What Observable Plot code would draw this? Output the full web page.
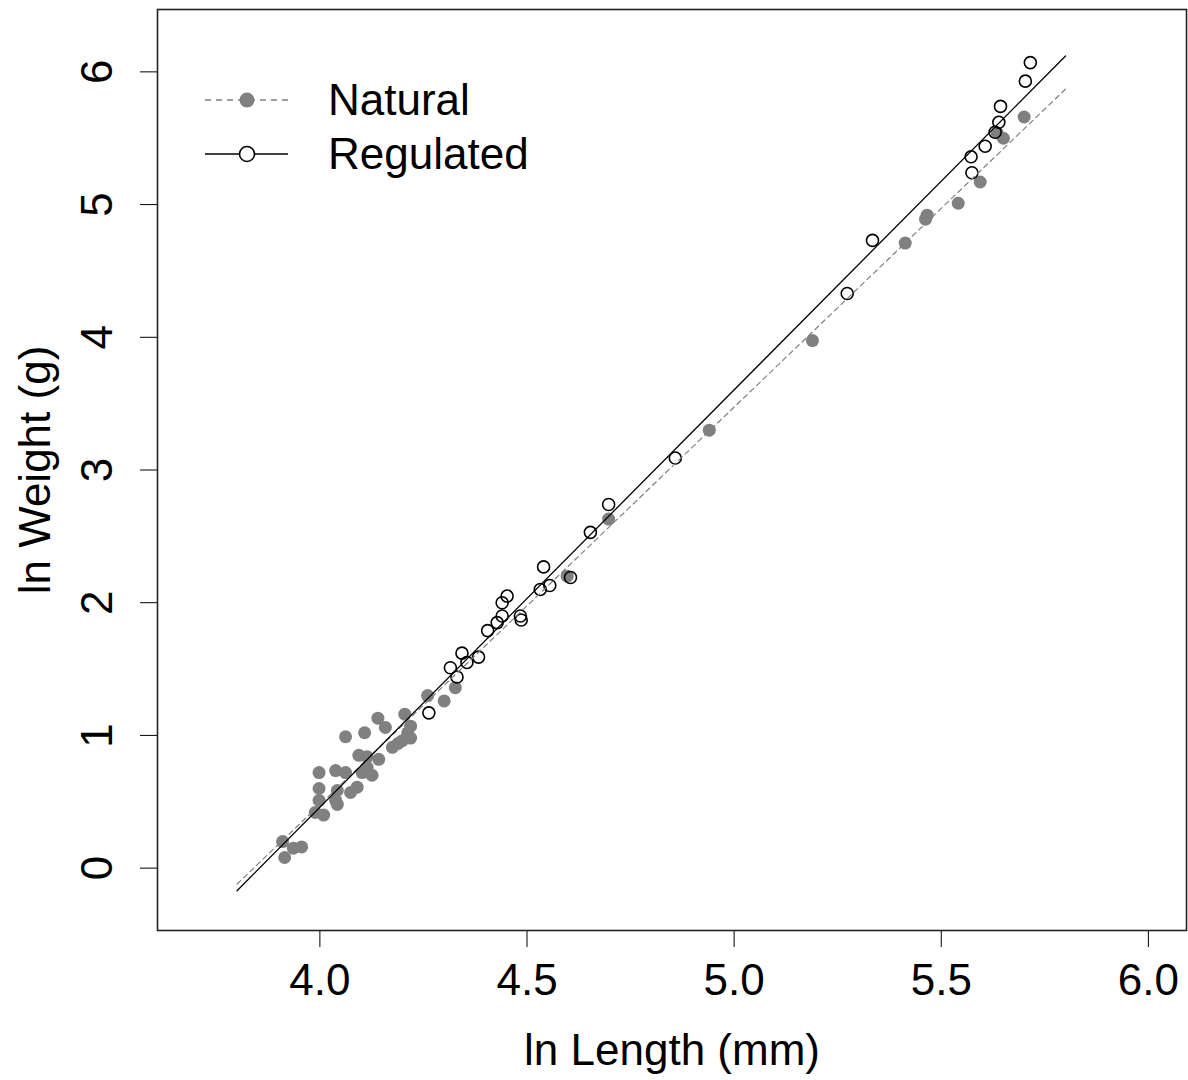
<!DOCTYPE html>
<html>
<head>
<meta charset="utf-8">
<script src="https://cdn.jsdelivr.net/npm/d3@7"></script>
<script src="https://cdn.jsdelivr.net/npm/@observablehq/plot@0.6"></script>
<style>
  html, body { margin: 0; padding: 0; background: white; }
  #wrap { position: relative; width: 1188px; height: 1080px; font-family: "Liberation Sans", Arial, sans-serif; }
  #legend { position: absolute; left: 0; top: 0; pointer-events: none; }
</style>
</head>
<body>
<div id="wrap"></div>
<script>
// ---- data ----
const naturalX = [3.910, 3.915, 3.936, 3.956, 3.989, 4.009, 3.998, 4.038, 4.042, 3.998,
                  4.042, 4.074, 4.090, 3.998, 4.038, 4.062, 4.102, 4.126, 4.114, 4.094,
                  4.114, 4.142, 4.062, 4.108, 4.140, 4.158, 4.175, 4.189, 4.199, 4.219,
                  4.219, 4.205, 4.212, 4.260, 4.300, 4.327, 4.597, 4.697, 4.940, 5.189,
                  5.413, 5.462, 5.466, 5.541, 5.594, 5.635, 5.650, 5.700];
const naturalY = [0.20, 0.08, 0.15, 0.16, 0.42, 0.40, 0.51, 0.51, 0.48, 0.60,
                  0.585, 0.57, 0.61, 0.72, 0.735, 0.72, 0.72, 0.70, 0.76, 0.85,
                  0.84, 0.82, 0.99, 1.02, 1.13, 1.06, 0.91, 0.94, 0.96, 0.98,
                  1.07, 1.16, 1.02, 1.30, 1.26, 1.36, 2.20, 2.63, 3.30, 3.975,
                  4.71, 4.89, 4.92, 5.01, 5.17, 5.54, 5.50, 5.66];
const regulatedX = [4.263, 4.315, 4.331, 4.343, 4.355, 4.383, 4.405, 4.428, 4.440, 4.440,
                    4.452, 4.484, 4.486, 4.532, 4.540, 4.555, 4.605, 4.653, 4.697, 4.858,
                    5.273, 5.334, 5.572, 5.574, 5.606, 5.630, 5.639, 5.643, 5.703, 5.715];
const regulatedY = [1.17, 1.51, 1.44, 1.62, 1.55, 1.59, 1.79, 1.85, 1.90, 2.00,
                    2.05, 1.90, 1.87, 2.10, 2.27, 2.13, 2.19, 2.53, 2.74, 3.09,
                    4.33, 4.73, 5.36, 5.24, 5.44, 5.545, 5.62, 5.74, 5.93, 6.07];
const fitX = [3.8, 5.8];
const naturalFitY = [-0.12, 5.87];
const regulatedFitY = [-0.17, 6.12];
const xTicks = [4.0, 4.5, 5.0, 5.5, 6.0];
const yTicks = [0, 1, 2, 3, 4, 5, 6];
const seriesNames = ["Natural", "Regulated"];
const xTitle = "ln Length (mm)";
const yTitle = "ln Weight (g)";

// ---- tables ----
const natural = naturalX.map((x, i) => ({x, y: naturalY[i]}));
const regulated = regulatedX.map((x, i) => ({x, y: regulatedY[i]}));
const naturalFit = fitX.map((x, i) => ({x, y: naturalFitY[i]}));
const regulatedFit = fitX.map((x, i) => ({x, y: regulatedFitY[i]}));

const GRAY = "#808080";
const FS = 44;

const chart = Plot.plot({
  width: 1188,
  height: 1080,
  marginLeft: 157,
  marginRight: 2,
  marginTop: 9,
  marginBottom: 150,
  x: {domain: [3.608, 6.092]},
  y: {domain: [-0.47, 6.47]},
  style: {fontFamily: '"Liberation Sans", Arial, sans-serif', background: "white", color: "black", overflow: "visible"},
  marks: [
    Plot.axisX({ticks: xTicks, tickSize: 17, tickPadding: 16, tickFormat: d3.format(".1f"), label: null, fontSize: FS}),
    Plot.axisY({ticks: yTicks, tickSize: 17, tickFormat: () => "", label: null}),
    Plot.text(yTicks, {y: d => d, text: d => String(d), frameAnchor: "left", dx: -60, rotate: -90, fontSize: FS, textAnchor: "middle"}),
    Plot.dot(natural, {x: "x", y: "y", r: 6.5, fill: GRAY, stroke: "none"}),
    Plot.dot(regulated, {x: "x", y: "y", r: 6, fill: "none", stroke: "black", strokeWidth: 1.6}),
    Plot.line(naturalFit, {x: "x", y: "y", stroke: GRAY, strokeWidth: 1.2, strokeDasharray: "5,4"}),
    Plot.line(regulatedFit, {x: "x", y: "y", stroke: "black", strokeWidth: 1.3}),
    Plot.frame({stroke: "#222", strokeWidth: 1.6}),
    Plot.text([xTitle], {text: d => d, frameAnchor: "bottom", dy: 134, fontSize: FS, textAnchor: "middle"}),
    Plot.text([yTitle], {text: d => d, frameAnchor: "left", dx: -122, rotate: -90, fontSize: FS, textAnchor: "middle"})
  ]
});

const wrap = document.getElementById("wrap");
wrap.appendChild(chart);

// ---- legend (overlaid inside the plot box, top-left) ----
const ns = "http://www.w3.org/2000/svg";
const leg = document.createElementNS(ns, "svg");
leg.setAttribute("id", "legend");
leg.setAttribute("width", 600);
leg.setAttribute("height", 200);
const rows = [
  {name: seriesNames[0], y: 100, stroke: GRAY, dash: "6,5", fill: GRAY, cstroke: "none"},
  {name: seriesNames[1], y: 154, stroke: "black", dash: null, fill: "none", cstroke: "black"}
];
for (const r of rows) {
  const ln = document.createElementNS(ns, "line");
  ln.setAttribute("x1", 205); ln.setAttribute("x2", 288);
  ln.setAttribute("y1", r.y); ln.setAttribute("y2", r.y);
  ln.setAttribute("stroke", r.stroke); ln.setAttribute("stroke-width", 1.3);
  if (r.dash) ln.setAttribute("stroke-dasharray", r.dash);
  leg.appendChild(ln);
  const c = document.createElementNS(ns, "circle");
  c.setAttribute("cx", 247); c.setAttribute("cy", r.y);
  c.setAttribute("r", 7.5);
  c.setAttribute("fill", r.fill === "none" ? "white" : r.fill);
  c.setAttribute("stroke", r.cstroke); c.setAttribute("stroke-width", 1.6);
  leg.appendChild(c);
  const t = document.createElementNS(ns, "text");
  t.setAttribute("x", 328); t.setAttribute("y", r.y);
  t.setAttribute("dy", "0.35em");
  t.setAttribute("font-size", FS);
  t.setAttribute("font-family", '"Liberation Sans", Arial, sans-serif');
  t.textContent = r.name;
  leg.appendChild(t);
}
wrap.appendChild(leg);
</script>
</body>
</html>
